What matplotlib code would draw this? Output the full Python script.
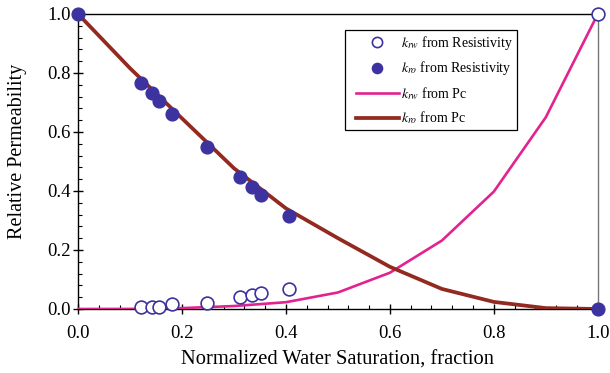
import matplotlib
matplotlib.use("Agg")
import matplotlib.pyplot as plt
from matplotlib.ticker import MultipleLocator, FormatStrFormatter
from matplotlib.legend_handler import HandlerLine2D
from matplotlib.lines import Line2D

plt.rcParams['font.family'] = ['Liberation Serif', 'DejaVu Serif']
plt.rcParams['mathtext.fontset'] = 'stix'

# Resistivity-derived points
sw_res = [0.0, 0.122, 0.142, 0.156, 0.181, 0.248, 0.311, 0.335, 0.352, 0.406, 1.0]
kro_res = [1.0, 0.767, 0.731, 0.706, 0.661, 0.548, 0.449, 0.413, 0.386, 0.315, 0.0]
sw_rw = [0.122, 0.142, 0.156, 0.181, 0.248, 0.311, 0.335, 0.352, 0.406, 1.0]
krw_res = [0.008, 0.008, 0.008, 0.016, 0.021, 0.040, 0.046, 0.053, 0.067, 1.0]

# Pc-derived curves
sw_pc = [0.0, 0.1, 0.2, 0.3, 0.4, 0.5, 0.6, 0.7, 0.8, 0.9, 1.0]
krw_pc = [0.0, 0.0003, 0.003, 0.01, 0.023, 0.056, 0.123, 0.232, 0.398, 0.650, 1.0]
kro_pc = [1.0, 0.816, 0.646, 0.477, 0.341, 0.240, 0.143, 0.068, 0.024, 0.003, 0.0]

blue = '#3c33a0'
pink = '#e2238f'
brown = '#922a20'

fig = plt.figure(figsize=(6.1, 3.73), dpi=100)
ax = fig.add_axes([0.128, 0.1716, 0.852, 0.7909])

ax.plot(sw_rw, krw_res, 'o', mfc='white', mec=blue, mew=1.2, ms=9.2,
        clip_on=False, zorder=4, label=r'$k_{rw}$ from Resistivity')
ax.plot(sw_res, kro_res, 'o', mfc=blue, mec=blue, ms=9.2,
        clip_on=False, zorder=4, label=r'$k_{ro}$ from Resistivity')
ax.plot(sw_pc, krw_pc, '-', color=pink, lw=1.9, zorder=3, label=r'$k_{rw}$ from Pc')
ax.plot(sw_pc, kro_pc, '-', color=brown, lw=2.7, zorder=3, label=r'$k_{ro}$ from Pc')

ax.set_xlim(0, 1)
ax.set_ylim(0, 1)
ax.xaxis.set_major_locator(MultipleLocator(0.2))
ax.yaxis.set_major_locator(MultipleLocator(0.2))
ax.xaxis.set_minor_locator(MultipleLocator(0.04))
ax.yaxis.set_minor_locator(MultipleLocator(0.04))
ax.xaxis.set_major_formatter(FormatStrFormatter('%.1f'))
ax.yaxis.set_major_formatter(FormatStrFormatter('%.1f'))
ax.tick_params(which='both', top=False, right=False, labelsize=13.5)
ax.tick_params(which='major', direction='inout', length=7.5, width=1)
ax.tick_params(which='minor', direction='in', length=3, width=0.8)
ax.tick_params(axis='x', which='major', pad=8)
ax.tick_params(axis='y', which='major', pad=1.5)
for s in ['left', 'bottom', 'top']:
    ax.spines[s].set_color('black')
    ax.spines[s].set_linewidth(1)
ax.spines['right'].set_color('#777777')
ax.spines['right'].set_linewidth(1)

ax.set_xlabel('Normalized Water Saturation, fraction', fontsize=14.8, labelpad=6)
ax.set_ylabel('Relative Permeability', fontsize=14.5)
ax.yaxis.set_label_coords(-0.098, 0.535)

leg = ax.legend(loc='upper left', bbox_to_anchor=(0.513, 0.946), borderaxespad=0,
                fontsize=10, frameon=True, fancybox=False, edgecolor='black',
                framealpha=1, handlelength=3.6, handletextpad=0.15,
                labelspacing=0.55, borderpad=0.28, markerscale=0.8,
                handler_map={Line2D: HandlerLine2D(xpad=0.5)})
leg.get_frame().set_linewidth(0.9)

fig.savefig('out.png', dpi=100)
